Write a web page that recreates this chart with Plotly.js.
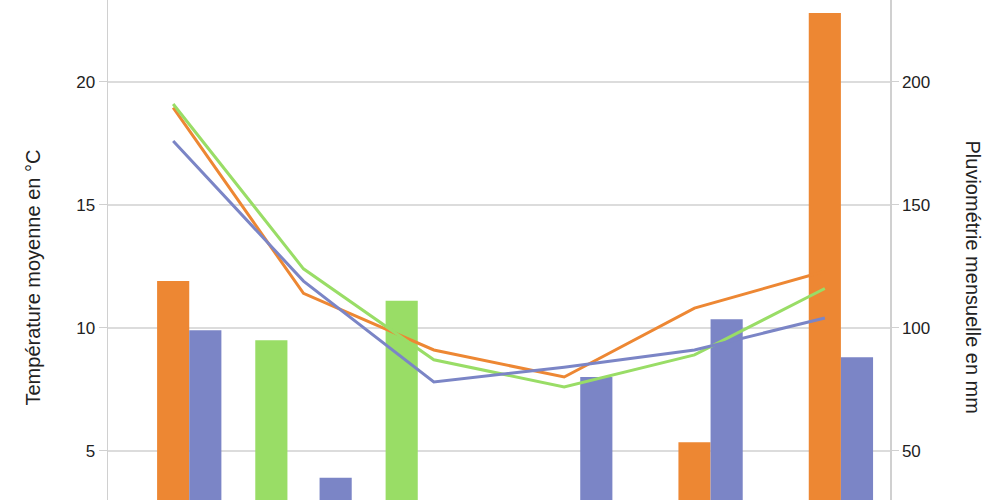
<!DOCTYPE html>
<html>
<head>
<meta charset="utf-8">
<script src="https://cdn.plot.ly/plotly-3.0.1.min.js"></script>
<style>html,body{margin:0;padding:0;background:#fff;}#chart{width:1000px;height:500px;}</style>
</head>
<body>
<div id="chart"></div>
<script>
// Categories (x-axis labels are cropped out of view in the reference)
const categories = ["1", "2", "3", "4", "5", "6"];

// Monthly rainfall in mm (right axis) – values below 30 are hidden under the crop, estimated
const rainGreen  = [20, 95, 111, 20, 20, 20];
const rainOrange = [119, 20, 20, 20, 53.5, 228];
const rainBlue   = [99, 39, 20, 80, 103.5, 88];

// Mean temperature in °C (left axis)
const tempOrange = [18.95, 11.4, 9.1, 8.0, 10.8, 12.3];
const tempGreen  = [19.1, 12.4, 8.7, 7.6, 8.9, 11.6];
const tempBlue   = [17.6, 11.9, 7.8, 8.4, 9.1, 10.4];

const titleLeft  = "Température moyenne en °C";
const titleRight = "Pluviométrie mensuelle en mm";

const cOrange = "#ED8733";
const cGreen  = "#99DD66";
const cBlue   = "#7B85C6";

// bars on the base axis (drawn right), lines on the overlay axis (drawn left, on top)
const bar = (y, c) => ({type: "bar", x: categories, y: y, yaxis: "y",
  marker: {color: c, line: {width: 0}}, showlegend: false, hoverinfo: "none"});
const line = (y, c) => ({type: "scatter", mode: "lines", x: categories, y: y, yaxis: "y2",
  line: {color: c, width: 3}, showlegend: false, hoverinfo: "none"});

const data = [
  bar(rainGreen, cGreen), bar(rainOrange, cOrange), bar(rainBlue, cBlue),
  line(tempOrange, cOrange), line(tempGreen, cGreen), line(tempBlue, cBlue)
];

const ff = "Liberation Sans, Arial, sans-serif";
const font = {family: ff, size: 17, color: "#222"};
const axisCol = "#d0d0d0";

const layout = {
  width: 1000, height: 500,
  margin: {l: 108, r: 110, t: 0, b: 0, pad: 0},
  paper_bgcolor: "#fff", plot_bgcolor: "#fff",
  font: font,
  barmode: "group", bargap: 0.26, bargroupgap: 0,
  xaxis: {type: "category", range: [-0.5, 5.5], showticklabels: false, ticks: "",
    showgrid: false, zeroline: false, showline: false},
  yaxis: {side: "right", range: [30, 233.3], tickvals: [50, 100, 150, 200],
    ticks: "outside", ticklen: 7, tickcolor: axisCol, showline: true, linecolor: axisCol,
    linewidth: 1.5, gridcolor: "#dcdcdc", gridwidth: 1.5, zeroline: false, tickfont: font},
  yaxis2: {overlaying: "y", side: "left", range: [3.0, 23.33], tickvals: [5, 10, 15, 20],
    ticks: "outside", ticklen: 8, tickcolor: axisCol, showline: true, linecolor: axisCol,
    linewidth: 1.5, showgrid: false, zeroline: false, tickfont: font},
  annotations: [
    {text: titleLeft, textangle: -90, xref: "paper", yref: "paper", x: 0, y: 0.445,
     xshift: -75, xanchor: "center", yanchor: "middle", showarrow: false,
     font: {family: ff, size: 20, color: "#222"}},
    {text: titleRight, textangle: 90, xref: "paper", yref: "paper", x: 1, y: 0.447,
     xshift: 82, xanchor: "center", yanchor: "middle", showarrow: false,
     font: {family: ff, size: 20, color: "#222"}}
  ]
};

Plotly.newPlot("chart", data, layout, {staticPlot: true, displayModeBar: false});
</script>
</body>
</html>
